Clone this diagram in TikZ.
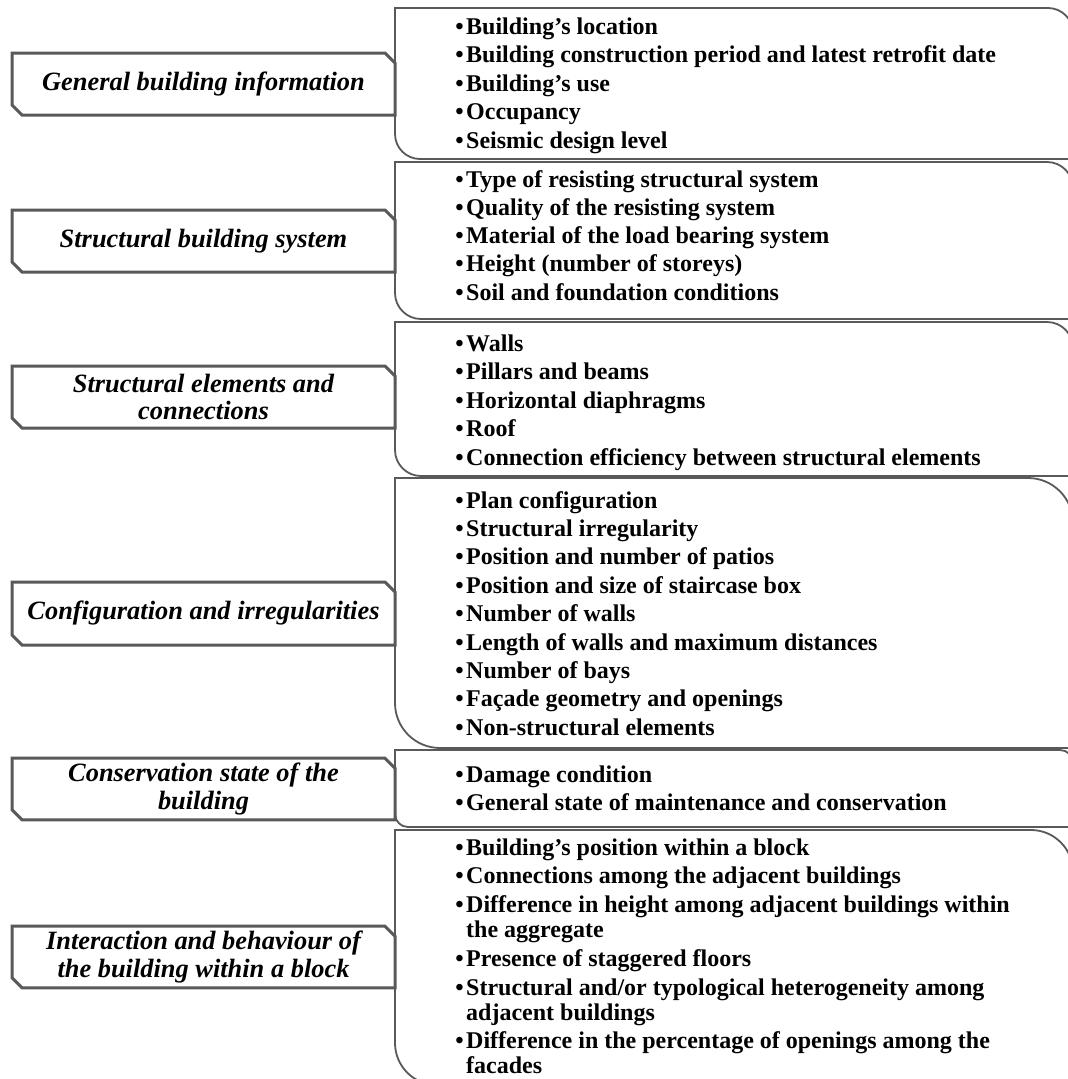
\documentclass[tikz,border=0pt]{standalone}
\usepackage{fontspec}
\setmainfont{Liberation Serif}
\usetikzlibrary{shapes.misc}
\definecolor{ln}{HTML}{595959}
\newcommand\bl{\llap{•\kern2.5pt}}
\newcommand\rbox[3]{% top, bottom, radius
  \draw[rboxline] (395,#1) -- ({1073-#3},#1)
    .. controls ({1073-0.448*#3},#1) and (1073,{#1+0.448*#3}) .. (1073,{#1+#3})
    -- (1073,#2) -- ({395+#3},#2)
    .. controls ({395+0.448*#3},#2) and (395,{#2-0.448*#3}) .. (395,{#2-#3}) -- cycle;}
\tikzset{
  rboxline/.style={draw=ln, line width=1.8pt, fill=white},
  lbox/.style={chamfered rectangle, chamfered rectangle corners={north east,south west},
    chamfered rectangle sep=5pt, draw=ln, line width=3pt, fill=white,
    minimum width=383pt, inner sep=0pt, align=center,
    font=\fontsize{26.4}{27.5}\selectfont\bfseries\itshape},
  itm/.style={anchor=base west, inner sep=0pt, font=\fontsize{24}{28}\selectfont\bfseries}
}
\begin{document}
\begin{tikzpicture}[x=1pt,y=-1pt]
\useasboundingbox (0,0) rectangle (1068,1079);
\fill[white] (0,0) rectangle (1068,1079);
\clip (0,0) rectangle (1068,1079);
% right boxes
\rbox{8}{159}{25}
\rbox{162}{319}{26}
\rbox{322}{476}{26}
\rbox{478}{748}{45}
\rbox{750}{827}{13}
\rbox{830}{1085}{42}
% left boxes
\node[lbox, minimum height=62pt] (L1) at (203.5,84) {General building information};
\node[lbox, minimum height=62pt] (L2) at (203.5,241) {Structural building system};
\node[lbox, minimum height=62pt] (L3) at (203.5,397) {Structural elements and\\connections};
\node[lbox, minimum height=63pt] (L4) at (203.5,613.5) {Configuration and irregularities};
\node[lbox, minimum height=60pt] (L5) at (203.5,789) {Conservation state of the\\building};
\node[lbox, minimum height=60pt] (L6) at (203.5,957) {Interaction and behaviour of\\the building within a block};
% row 1
\node[itm] (a1) at (466,34) {\bl Building’s location};
\node[itm] (a2) at (466,62.5) {\bl Building construction period and latest retrofit date};
\node[itm] (a3) at (466,91) {\bl Building’s use};
\node[itm] (a4) at (466,119.5) {\bl Occupancy};
\node[itm] (a5) at (466,148) {\bl Seismic design level};
% row 2
\node[itm] (b1) at (466,187) {\bl Type of resisting structural system};
\node[itm] (b2) at (466,215) {\bl Quality of the resisting system};
\node[itm] (b3) at (466,243) {\bl Material of the load bearing system};
\node[itm] (b4) at (466,271.5) {\bl Height (number of storeys)};
\node[itm] (b5) at (466,300) {\bl Soil and foundation conditions};
% row 3
\node[itm] (c1) at (466,351) {\bl Walls};
\node[itm] (c2) at (466,379.5) {\bl Pillars and beams};
\node[itm] (c3) at (466,408) {\bl Horizontal diaphragms};
\node[itm] (c4) at (466,436.5) {\bl Roof};
\node[itm] (c5) at (466,465) {\bl Connection efficiency between structural elements};
% row 4
\node[itm] (d1) at (466,508) {\bl Plan configuration};
\node[itm] (d2) at (466,536.4) {\bl Structural irregularity};
\node[itm] (d3) at (466,564.8) {\bl Position and number of patios};
\node[itm] (d4) at (466,593.2) {\bl Position and size of staircase box};
\node[itm] (d5) at (466,621.6) {\bl Number of walls};
\node[itm] (d6) at (466,650) {\bl Length of walls and maximum distances};
\node[itm] (d7) at (466,678.4) {\bl Number of bays};
\node[itm] (d8) at (466,706.8) {\bl Façade geometry and openings};
\node[itm] (d9) at (466,735.2) {\bl Non-structural elements};
% row 5
\node[itm] (e1) at (466,782) {\bl Damage condition};
\node[itm] (e2) at (466,810) {\bl General state of maintenance and conservation};
% row 6
\node[itm] (f1) at (466,855) {\bl Building’s position within a block};
\node[itm] (f2) at (466,883) {\bl Connections among the adjacent buildings};
\node[itm] (f3) at (466,912) {\bl Difference in height among adjacent buildings within};
\node[itm] (f3b) at (466,937) {the aggregate};
\node[itm] (f4) at (466,966) {\bl Presence of staggered floors};
\node[itm] (f5) at (466,995) {\bl Structural and/or typological heterogeneity among};
\node[itm] (f5b) at (466,1020) {adjacent buildings};
\node[itm] (f6) at (466,1048) {\bl Difference in the percentage of openings among the};
\node[itm] (f6b) at (466,1073) {facades};
\end{tikzpicture}
\end{document}
